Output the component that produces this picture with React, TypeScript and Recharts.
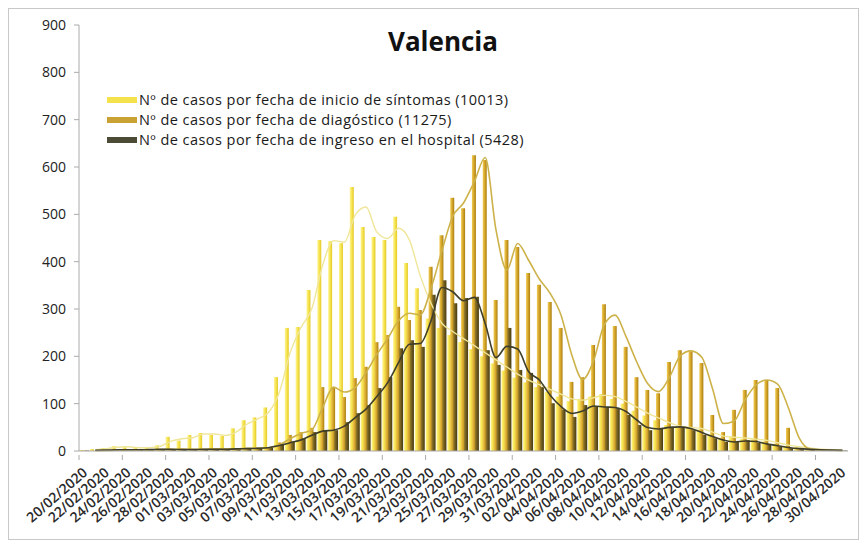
import React from 'react';
import { ComposedChart, Bar, Line, XAxis, YAxis } from 'recharts';

const dates: string[] = [
  '20/02/2020', '21/02/2020', '22/02/2020', '23/02/2020', '24/02/2020', '25/02/2020', '26/02/2020', '27/02/2020', '28/02/2020', '29/02/2020',
  '01/03/2020', '02/03/2020', '03/03/2020', '04/03/2020', '05/03/2020', '06/03/2020', '07/03/2020', '08/03/2020', '09/03/2020', '10/03/2020',
  '11/03/2020', '12/03/2020', '13/03/2020', '14/03/2020', '15/03/2020', '16/03/2020', '17/03/2020', '18/03/2020', '19/03/2020', '20/03/2020',
  '21/03/2020', '22/03/2020', '23/03/2020', '24/03/2020', '25/03/2020', '26/03/2020', '27/03/2020', '28/03/2020', '29/03/2020', '30/03/2020',
  '31/03/2020', '01/04/2020', '02/04/2020', '03/04/2020', '04/04/2020', '05/04/2020', '06/04/2020', '07/04/2020', '08/04/2020', '09/04/2020',
  '10/04/2020', '11/04/2020', '12/04/2020', '13/04/2020', '14/04/2020', '15/04/2020', '16/04/2020', '17/04/2020', '18/04/2020', '19/04/2020',
  '20/04/2020', '21/04/2020', '22/04/2020', '23/04/2020', '24/04/2020', '25/04/2020', '26/04/2020', '27/04/2020', '28/04/2020', '29/04/2020',
  '30/04/2020',
];

const sintomas: number[] = [
  2, 4, 6, 10, 8, 6, 8, 12, 30, 22,
  34, 38, 34, 32, 48, 65, 71, 92, 156, 260,
  262, 340, 446, 443, 439, 558, 473, 452, 446, 495,
  397, 344, 280, 260, 245, 230, 215, 200, 185, 170,
  155, 145, 135, 125, 115, 105, 110, 115, 120, 110,
  100, 85, 75, 65, 55, 50, 50, 45, 35, 28,
  30, 25, 25, 20, 15, 10, 8, 5, 3, 2, 1,
];

const diagnostico: number[] = [
  1, 0, 2, 1, 2, 2, 3, 3, 4, 4,
  3, 4, 5, 4, 5, 6, 6, 8, 18, 34,
  40, 49, 135, 135, 114, 154, 178, 230, 245, 305,
  277, 298, 389, 456, 535, 513, 625, 615, 319, 446,
  431, 376, 351, 315, 260, 146, 156, 224, 310, 264,
  220, 156, 129, 122, 188, 213, 210, 186, 76, 40,
  87, 129, 150, 150, 133, 49, 5, 3, 2, 1, 0,
];

const hospital: number[] = [
  1, 2, 2, 3, 2, 3, 3, 4, 3, 3,
  3, 4, 3, 4, 5, 5, 6, 8, 15, 20,
  27, 40, 44, 44, 61, 80, 97, 133, 156, 217,
  234, 220, 330, 361, 312, 323, 326, 213, 182, 260,
  171, 165, 135, 101, 87, 72, 97, 93, 93, 91,
  76, 55, 44, 49, 51, 51, 44, 34, 27, 19,
  19, 23, 17, 13, 9, 6, 4, 3, 2, 2, 1,
];

const yTicks: number[] = [0, 100, 200, 300, 400, 500, 600, 700, 800, 900];

const seriesLabels: string[] = [
  'Nº de casos por fecha de inicio de síntomas (10013)',
  'Nº de casos por fecha de diagóstico (11275)',
  'Nº de casos por fecha de ingreso en el hospital (5428)',
];

const title = 'Valencia';

// Excel-style moving-average trendline (period 2) derived from the bar values
function trailingAverage(values: number[], period: number): (number | null)[] {
  return values.map((_, i) => {
    if (i < period - 1) return null;
    let s = 0;
    for (let k = 0; k < period; k++) s += values[i - k];
    return s / period;
  });
}

const sintomasTrend = trailingAverage(sintomas, 2);
const diagnosticoTrend = trailingAverage(diagnostico, 2);
const hospitalTrend = trailingAverage(hospital, 2);

const data = dates.map((d, i) => ({
  date: d,
  sintomas: sintomas[i],
  diagnostico: diagnostico[i],
  hospital: hospital[i],
  sintomasTrend: sintomasTrend[i],
  diagnosticoTrend: diagnosticoTrend[i],
  hospitalTrend: hospitalTrend[i],
}));

const FONT = '"Open Sans", Lato, sans-serif';
const CHART_W = 849;
const CHART_H = 530;
const MARGIN = { top: 16, right: 10, bottom: 8, left: 0 };
const Y_W = 70;
const BAND = (CHART_W - MARGIN.left - MARGIN.right - Y_W) / dates.length;

const swatchColors = ['#F4E24C', '#C9A233', '#4B4B36'];

const XTick = (props: any) => {
  const { x, y, payload, index } = props;
  return (
    <g>
      {index % 2 === 0 && (
        <line x1={x - BAND / 2} x2={x - BAND / 2} y1={y - 4} y2={y + 1} stroke="#aaa" strokeWidth={1} />
      )}
      <g transform={`translate(${x + 4},${y + 15})`}>
        <text x={0} y={0} textAnchor="end" transform="rotate(-41)" fontSize={14} fill="#2a2a2a" fontFamily={FONT} fontWeight={600}>
          {payload.value}
        </text>
      </g>
    </g>
  );
};

export default function App() {
  return (
    <div style={{ position: 'relative', width: CHART_W, height: CHART_H, border: '1px solid #c8c8c8', background: '#fff' }}>
      <div
        style={{
          position: 'absolute', left: 334, width: 200, top: 16, textAlign: 'center',
          fontFamily: FONT, fontWeight: 700, fontSize: 26, color: '#111', lineHeight: '32px', zIndex: 2,
        }}
      >
        {title}
      </div>
      <div
        style={{
          position: 'absolute', left: 98, top: 81, zIndex: 2,
          fontFamily: FONT, fontSize: 14.5, letterSpacing: 0.45, color: '#1a1a1a', lineHeight: '20px',
        }}
      >
        {seriesLabels.map((label, i) => (
          <div key={label} style={{ display: 'flex', alignItems: 'center', whiteSpace: 'nowrap', height: 20 }}>
            <span style={{ display: 'inline-block', width: 30, height: 6, background: swatchColors[i], marginRight: 2 }} />
            <span>{label}</span>
          </div>
        ))}
      </div>
      <ComposedChart width={CHART_W} height={CHART_H} data={data} margin={MARGIN} barGap={-1}>
        <defs>
          <linearGradient id="gSint" x1="0" y1="0" x2="1" y2="0">
            <stop offset="0%" stopColor="#FFF59A" />
            <stop offset="50%" stopColor="#F6E44E" />
            <stop offset="100%" stopColor="#E2C828" />
          </linearGradient>
          <linearGradient id="gDiag" x1="0" y1="0" x2="1" y2="0">
            <stop offset="0%" stopColor="#F0CC55" />
            <stop offset="50%" stopColor="#D6A62A" />
            <stop offset="100%" stopColor="#A87E12" />
          </linearGradient>
          <linearGradient id="gHosp" x1="0" y1="0" x2="1" y2="0">
            <stop offset="0%" stopColor="#9A8030" />
            <stop offset="50%" stopColor="#6E5A1C" />
            <stop offset="100%" stopColor="#463A12" />
          </linearGradient>
        </defs>
        <XAxis
          dataKey="date"
          interval={1}
          tick={<XTick />}
          tickLine={false}
          height={80}
          axisLine={{ stroke: '#aaa' }}
        />
        <YAxis
          width={Y_W}
          domain={[0, 900]}
          ticks={yTicks}
          interval={0}
          tickSize={5}
          tickMargin={8}
          axisLine={{ stroke: '#aaa' }}
          tickLine={{ stroke: '#aaa' }}
          tick={{ fontSize: 14, fill: '#222', fontFamily: FONT }}
        />
        <Bar dataKey="sintomas" name={seriesLabels[0]} fill="url(#gSint)" barSize={4} isAnimationActive={false} />
        <Bar dataKey="diagnostico" name={seriesLabels[1]} fill="url(#gDiag)" barSize={4} isAnimationActive={false} />
        <Bar dataKey="hospital" name={seriesLabels[2]} fill="url(#gHosp)" barSize={4} isAnimationActive={false} />
        <Line dataKey="sintomasTrend" type="monotone" stroke="#F0E69A" strokeWidth={1.4} dot={false} legendType="none" isAnimationActive={false} connectNulls />
        <Line dataKey="diagnosticoTrend" type="monotone" stroke="#CDB24A" strokeWidth={1.6} dot={false} legendType="none" isAnimationActive={false} connectNulls />
        <Line dataKey="hospitalTrend" type="monotone" stroke="#3E3E2A" strokeWidth={1.6} dot={false} legendType="none" isAnimationActive={false} connectNulls />
      </ComposedChart>
    </div>
  );
}
